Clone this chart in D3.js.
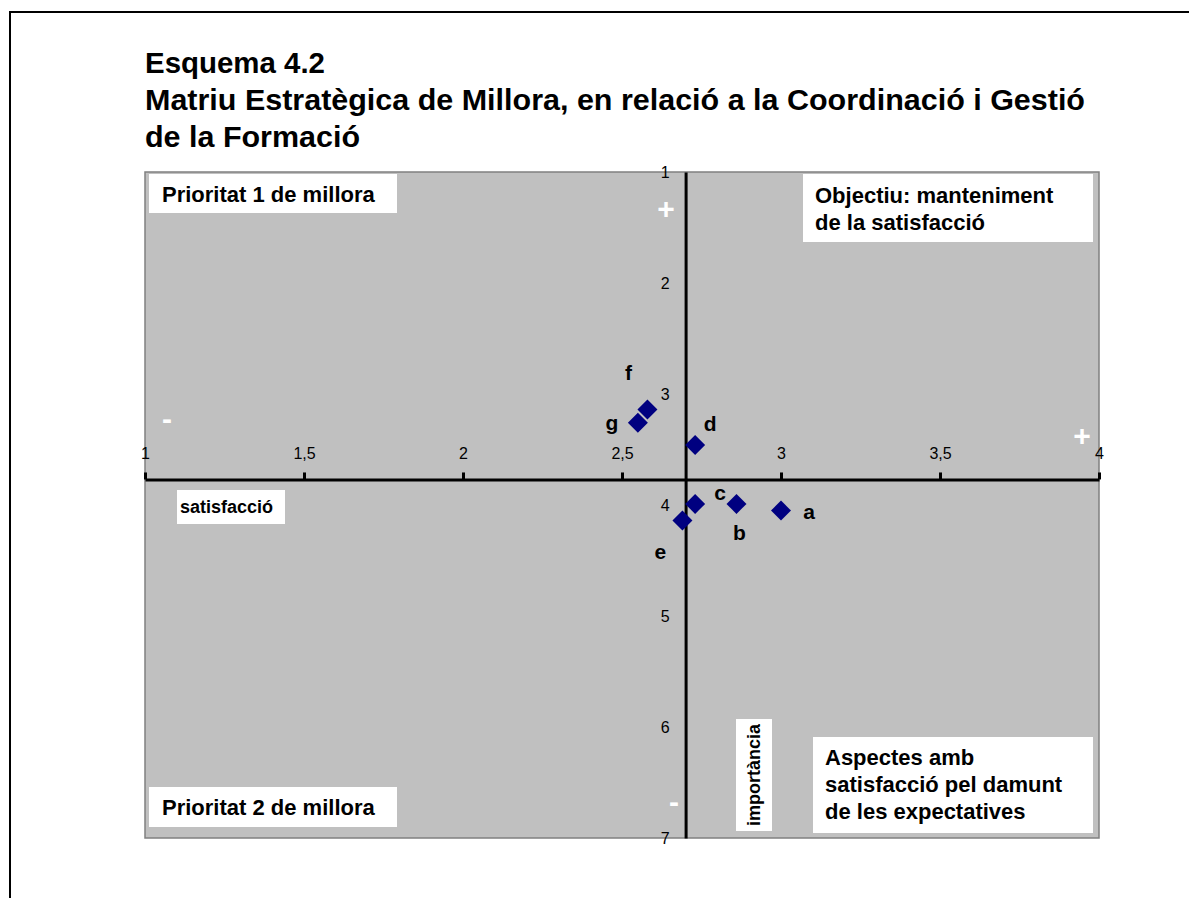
<!DOCTYPE html>
<html>
<head>
<meta charset="utf-8">
<script src="https://cdn.jsdelivr.net/npm/d3@7"></script>
<style>
  body { margin: 0; background: #fff; }
  svg { display: block; font-family: "Liberation Sans", Arial, sans-serif; }
</style>
</head>
<body>
<div id="chart"></div>
<script>
// aspects a..g : satisfaction (x) vs importance (y, 1 = top)
const labels = ['a', 'b', 'c', 'd', 'e', 'f', 'g'];
const satisfaccio = [3.00, 2.86, 2.73, 2.73, 2.69, 2.58, 2.55];
const importancia = [4.05, 3.99, 3.99, 3.46, 4.14, 3.14, 3.26];

const xTicks = [1, 1.5, 2, 2.5, 3, 3.5, 4];
const yTicks = [1, 2, 3, 4, 5, 6, 7];

// means where the axes cross
const xCross = 2.70;
const yCross = 3.77;

const W = 1189, H = 898;
const plot = { left: 145, top: 172, right: 1099, bottom: 838 };

const svg = d3.select('#chart').append('svg')
    .attr('width', W)
    .attr('height', H);

svg.append('rect').attr('width', W).attr('height', H).attr('fill', '#fff');

// page frame
svg.append('path')
    .attr('d', `M10,${H}V12H${W}`)
    .attr('fill', 'none')
    .attr('stroke', '#000')
    .attr('stroke-width', 2);

// title
const titleLines = [
    { t: 'Esquema 4.2', y: 73, w: 180 },
    { t: 'Matriu Estratègica de Millora, en relació a la Coordinació i Gestió', y: 110, w: 940 },
    { t: 'de la Formació', y: 147, w: 215 }
];
svg.selectAll('.title')
    .data(titleLines)
    .enter()
    .append('text')
    .attr('class', 'title')
    .attr('x', 145)
    .attr('y', d => d.y)
    .attr('textLength', d => d.w)
    .attr('lengthAdjust', 'spacingAndGlyphs')
    .style('font-size', '29px')
    .style('font-weight', 'bold')
    .text(d => d.t);

const x = d3.scaleLinear().domain([1, 4]).range([plot.left, plot.right]);
const y = d3.scaleLinear().domain([1, 7]).range([plot.top, plot.bottom]);

svg.append('rect')
    .attr('x', plot.left)
    .attr('y', plot.top)
    .attr('width', plot.right - plot.left)
    .attr('height', plot.bottom - plot.top)
    .attr('fill', '#c0c0c0')
    .attr('stroke', '#808080')
    .attr('stroke-width', 1.5);

// quadrant notes
const notes = [
    { lines: ['Prioritat 1 de millora'], x: 149, y: 174, w: 248, h: 39, tx: 162, ty: 202, fs: 22 },
    { lines: ['Objectiu: manteniment', 'de la satisfacció'], x: 803, y: 174, w: 290, h: 68, tx: 815, ty: 203, fs: 22 },
    { lines: ['Prioritat 2 de millora'], x: 149, y: 787, w: 248, h: 40, tx: 162, ty: 815, fs: 22 },
    { lines: ['Aspectes amb', 'satisfacció pel damunt', 'de les expectatives'], x: 813, y: 737, w: 280, h: 96, tx: 825, ty: 765, fs: 22 },
    { lines: ['satisfacció'], x: 177, y: 490, w: 108, h: 34, tx: 180, ty: 513, fs: 18 }
];
notes.forEach(n => {
    svg.append('rect')
        .attr('x', n.x).attr('y', n.y)
        .attr('width', n.w).attr('height', n.h)
        .attr('fill', '#fff');
    const t = svg.append('text')
        .attr('x', n.tx)
        .attr('y', n.ty)
        .style('font-size', n.fs + 'px')
        .style('font-weight', 'bold');
    n.lines.forEach((l, i) => {
        t.append('tspan')
            .attr('x', n.tx)
            .attr('dy', i === 0 ? 0 : 27)
            .text(l);
    });
});

// vertical axis title box
svg.append('rect')
    .attr('x', 736).attr('y', 719)
    .attr('width', 36).attr('height', 112)
    .attr('fill', '#fff');
svg.append('text')
    .attr('transform', 'translate(754,775) rotate(-90)')
    .attr('text-anchor', 'middle')
    .attr('dominant-baseline', 'central')
    .style('font-size', '18px')
    .style('font-weight', 'bold')
    .text('importància');

// axes crossing at the means
const fmt = d => String(d).replace('.', ',');

const xAxis = svg.append('g')
    .attr('transform', `translate(0,${y(yCross)})`)
    .call(d3.axisTop(x).tickValues(xTicks).tickFormat(fmt).tickSizeInner(7).tickSizeOuter(0).tickPadding(13));

const yAxis = svg.append('g')
    .attr('transform', `translate(${x(xCross)},0)`)
    .call(d3.axisLeft(y).tickValues(yTicks).tickFormat(fmt).tickSize(0).tickPadding(16));

[xAxis, yAxis].forEach(g => {
    g.attr('font-size', 16).attr('font-family', '"Liberation Sans", Arial, sans-serif');
    g.select('.domain').attr('stroke', '#000').attr('stroke-width', 3);
    g.selectAll('.tick line').attr('stroke', '#000').attr('stroke-width', 3);
    g.selectAll('.tick text').attr('fill', '#000');
});

// white +/- signs
const signs = [
    { s: '+', x: 666, y: 208 },
    { s: '-', x: 167, y: 418 },
    { s: '+', x: 1082, y: 435 },
    { s: '-', x: 674, y: 801 }
];
svg.selectAll('.sign')
    .data(signs)
    .enter()
    .append('text')
    .attr('class', 'sign')
    .attr('x', d => d.x)
    .attr('y', d => d.y)
    .attr('text-anchor', 'middle')
    .attr('dominant-baseline', 'central')
    .attr('fill', '#fff')
    .style('font-size', '30px')
    .style('font-weight', 'bold')
    .text(d => d.s);

// points
const points = labels.map((l, i) => ({ label: l, sx: satisfaccio[i], iy: importancia[i] }));
const diamond = d3.symbol(d3.symbolSquare, 200);

svg.selectAll('.pt')
    .data(points)
    .enter()
    .append('path')
    .attr('class', 'pt')
    .attr('d', diamond)
    .attr('transform', d => `translate(${x(d.sx)},${y(d.iy)}) rotate(45)`)
    .attr('fill', '#000080');

// label offsets (px) from each marker
const offsets = {
    a: [28, 1], b: [3, 29], c: [25, -11], d: [15, -22],
    e: [-22, 31], f: [-19, -37], g: [-26, 0]
};
svg.selectAll('.pt-label')
    .data(points)
    .enter()
    .append('text')
    .attr('class', 'pt-label')
    .attr('x', d => x(d.sx) + offsets[d.label][0])
    .attr('y', d => y(d.iy) + offsets[d.label][1])
    .attr('text-anchor', 'middle')
    .attr('dominant-baseline', 'central')
    .style('font-size', '21px')
    .style('font-weight', 'bold')
    .text(d => d.label);
</script>
</body>
</html>
